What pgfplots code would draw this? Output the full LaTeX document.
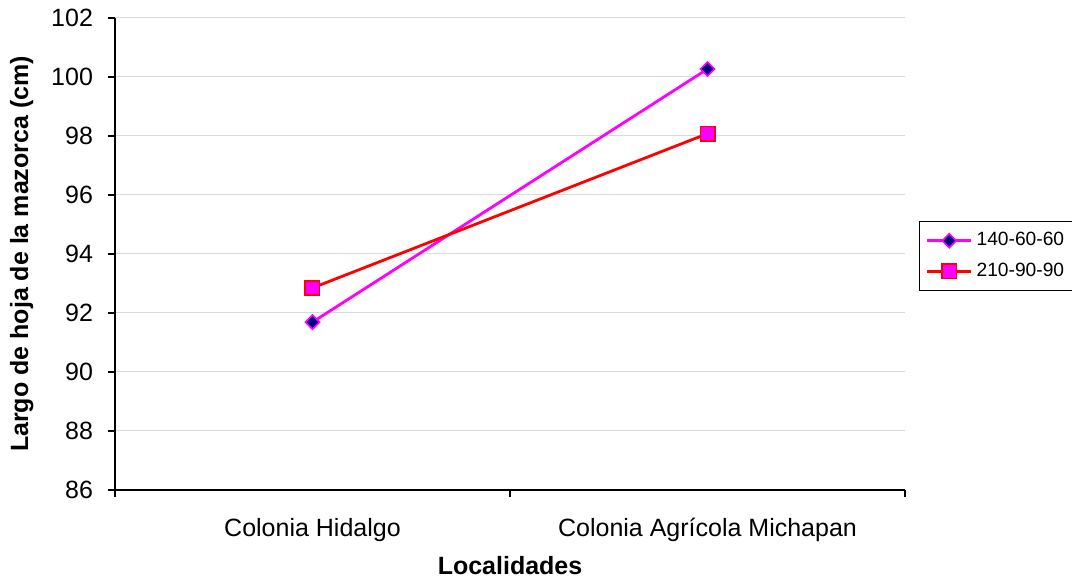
\documentclass[border=0pt]{standalone}
\usepackage{fontspec}
\setmainfont{Liberation Sans}
\usepackage{pgfplots}
\pgfplotsset{compat=1.18}
\definecolor{gridgray}{HTML}{DADADA}
\definecolor{navymark}{HTML}{000080}
\definecolor{pinkline}{HTML}{FF00FF}
\definecolor{redline}{HTML}{FF0000}
\begin{document}
\begin{tikzpicture}[font=\fontsize{12.5pt}{15pt}\selectfont]
\begin{axis}[
  at={(0,0)}, anchor=origin,
  scale only axis,
  width=395pt, height=236pt,
  xmin=0.5, xmax=2.5,
  ymin=86, ymax=102,
  ytick={86,88,...,102},
  xtick={1,2},
  xticklabels={Colonia Hidalgo, Colonia Agrícola Michapan},
  minor xtick={0.5,1.5,2.5},
  xtick style={draw=none},
  minor x tick style={draw=black, line width=0.6pt},
  y tick style={draw=black, line width=0.6pt},
  tick align=outside,
  major tick length=3.5pt,
  minor tick length=3.5pt,
  axis x line*=bottom,
  axis y line*=left,
  axis line style={line width=0.7pt, -},
  ymajorgrids,
  grid style={gridgray, line width=0.5pt},
  /pgf/number format/assume math mode=true,
  tick label style={font=\fontsize{12.5pt}{15pt}\selectfont},
  yticklabel style={xshift=-4pt},
  xticklabel style={yshift=-7pt},
  xlabel={\bfseries Localidades},
  ylabel={\bfseries Largo de hoja de la mazorca (cm)},
  label style={font=\fontsize{12.5pt}{15pt}\selectfont},
  xlabel style={yshift=-0.5pt},
  ylabel style={yshift=2pt},
  legend style={
    at={(rel axis cs:1.018,0.57)}, anchor=north west,
    draw=black, line width=0.6pt,
    row sep=3pt, inner xsep=3pt, inner ysep=3.5pt,
    font=\fontsize{9.6pt}{11.5pt}\selectfont,
    /tikz/every even column/.append style={column sep=3pt},
  },
  legend image code/.code={%
    \draw[mark repeat=2, mark phase=2]
      plot coordinates {(0pt,0pt) (11pt,0pt) (22pt,0pt)};},
  legend cell align=left,
]
\addplot[color=pinkline, line width=1.4pt,
  mark=square*, mark size=2.5pt,
  mark options={rotate=45, fill=navymark, draw=pinkline, line width=0.8pt}]
  coordinates {(1,91.69) (2,100.27)};
\addlegendentry{140-60-60}
\addplot[color=redline, line width=1.4pt,
  mark=square*, mark size=3.6pt,
  mark options={fill=pinkline, draw=redline, line width=0.8pt}]
  coordinates {(1,92.85) (2,98.08)};
\addlegendentry{210-90-90}
\end{axis}
\pgfresetboundingbox
\useasboundingbox (-57.5pt,-43.5pt) rectangle (478.5pt,245pt);
\end{tikzpicture}
\end{document}
